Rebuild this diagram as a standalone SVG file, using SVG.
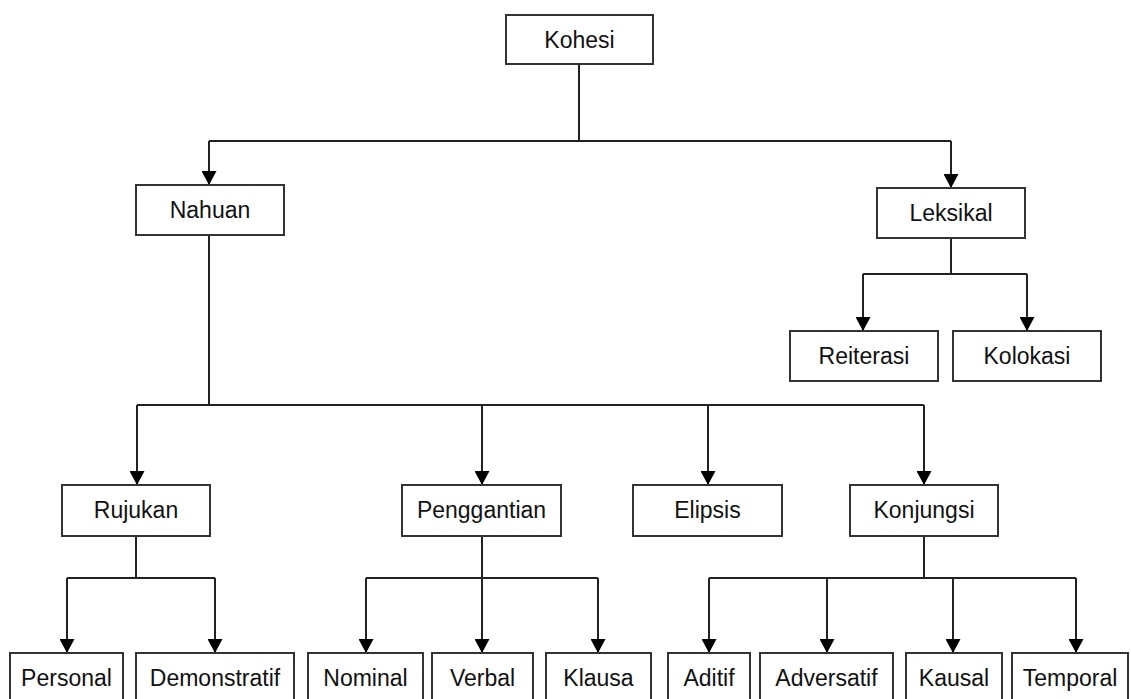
<svg xmlns="http://www.w3.org/2000/svg" width="1131" height="699" viewBox="0 0 1131 699">
<style>
.box{fill:#fff;stroke:#333;stroke-width:2}
.lbl{font-family:"Liberation Sans",Arial,sans-serif;font-size:23px;fill:#111;text-anchor:middle}
.ln{fill:none;stroke:#222;stroke-width:2}
</style>
<defs>
<marker id="ah" markerUnits="userSpaceOnUse" markerWidth="15" markerHeight="15" refX="14" refY="7.5" orient="auto">
<path d="M0,0 L14,7.5 L0,15 z" fill="#000"/>
</marker>
</defs>
<rect width="1131" height="699" fill="#fff"/>
<g id="connectors">
<path class="ln" d="M579,64 V141 M209,141 H951"/>
<path class="ln" d="M209,141 V185" marker-end="url(#ah)"/>
<path class="ln" d="M951,141 V188" marker-end="url(#ah)"/>
<path class="ln" d="M951,238 V274 M863,274 H1027"/>
<path class="ln" d="M863,274 V331" marker-end="url(#ah)"/>
<path class="ln" d="M1027,274 V331" marker-end="url(#ah)"/>
<path class="ln" d="M209,235 V405 M137,405 H924"/>
<path class="ln" d="M137,405 V485" marker-end="url(#ah)"/>
<path class="ln" d="M482,405 V485" marker-end="url(#ah)"/>
<path class="ln" d="M708,405 V485" marker-end="url(#ah)"/>
<path class="ln" d="M924,405 V485" marker-end="url(#ah)"/>
<path class="ln" d="M136,536 V578 M67,578 H215"/>
<path class="ln" d="M67,578 V653" marker-end="url(#ah)"/>
<path class="ln" d="M215,578 V653" marker-end="url(#ah)"/>
<path class="ln" d="M482,536 V653 M366,578 H598"/>
<path class="ln" d="M366,578 V653" marker-end="url(#ah)"/>
<path class="ln" d="M598,578 V653" marker-end="url(#ah)"/>
<path class="ln" d="M482,600 V653" marker-end="url(#ah)"/>
<path class="ln" d="M924,536 V578 M709,578 H1076"/>
<path class="ln" d="M709,578 V653" marker-end="url(#ah)"/>
<path class="ln" d="M827,578 V653" marker-end="url(#ah)"/>
<path class="ln" d="M953,578 V653" marker-end="url(#ah)"/>
<path class="ln" d="M1076,578 V653" marker-end="url(#ah)"/>
</g>
<g id="kohesi"><rect class="box" x="506" y="15" width="147" height="49"/><text class="lbl" x="579.5" y="48">Kohesi</text></g>
<g id="nahuan"><rect class="box" x="136" y="185" width="148" height="50"/><text class="lbl" x="210" y="218">Nahuan</text></g>
<g id="leksikal"><rect class="box" x="877" y="188" width="148" height="50"/><text class="lbl" x="951" y="221">Leksikal</text></g>
<g id="reiterasi"><rect class="box" x="790" y="331" width="148" height="50"/><text class="lbl" x="864" y="364">Reiterasi</text></g>
<g id="kolokasi"><rect class="box" x="953" y="331" width="148" height="50"/><text class="lbl" x="1027" y="364">Kolokasi</text></g>
<g id="rujukan"><rect class="box" x="62" y="485" width="148" height="51"/><text class="lbl" x="136" y="518">Rujukan</text></g>
<g id="penggantian"><rect class="box" x="402" y="485" width="159" height="51"/><text class="lbl" x="481.5" y="518">Penggantian</text></g>
<g id="elipsis"><rect class="box" x="633" y="485" width="149" height="51"/><text class="lbl" x="707.5" y="518">Elipsis</text></g>
<g id="konjungsi"><rect class="box" x="850" y="485" width="148" height="51"/><text class="lbl" x="924" y="518">Konjungsi</text></g>
<g id="personal"><rect class="box" x="10" y="653" width="113" height="50"/><text class="lbl" x="66.5" y="686">Personal</text></g>
<g id="demonstratif"><rect class="box" x="136" y="653" width="158" height="50"/><text class="lbl" x="215" y="686">Demonstratif</text></g>
<g id="nominal"><rect class="box" x="308" y="653" width="115" height="50"/><text class="lbl" x="365.5" y="686">Nominal</text></g>
<g id="verbal"><rect class="box" x="432" y="653" width="101" height="50"/><text class="lbl" x="482.5" y="686">Verbal</text></g>
<g id="klausa"><rect class="box" x="546" y="653" width="105" height="50"/><text class="lbl" x="598.5" y="686">Klausa</text></g>
<g id="aditif"><rect class="box" x="668" y="653" width="82" height="50"/><text class="lbl" x="709" y="686">Aditif</text></g>
<g id="adversatif"><rect class="box" x="760" y="653" width="133" height="50"/><text class="lbl" x="826.5" y="686">Adversatif</text></g>
<g id="kausal"><rect class="box" x="906" y="653" width="96" height="50"/><text class="lbl" x="954" y="686">Kausal</text></g>
<g id="temporal"><rect class="box" x="1012" y="653" width="116" height="50"/><text class="lbl" x="1070" y="686">Temporal</text></g>
</svg>
